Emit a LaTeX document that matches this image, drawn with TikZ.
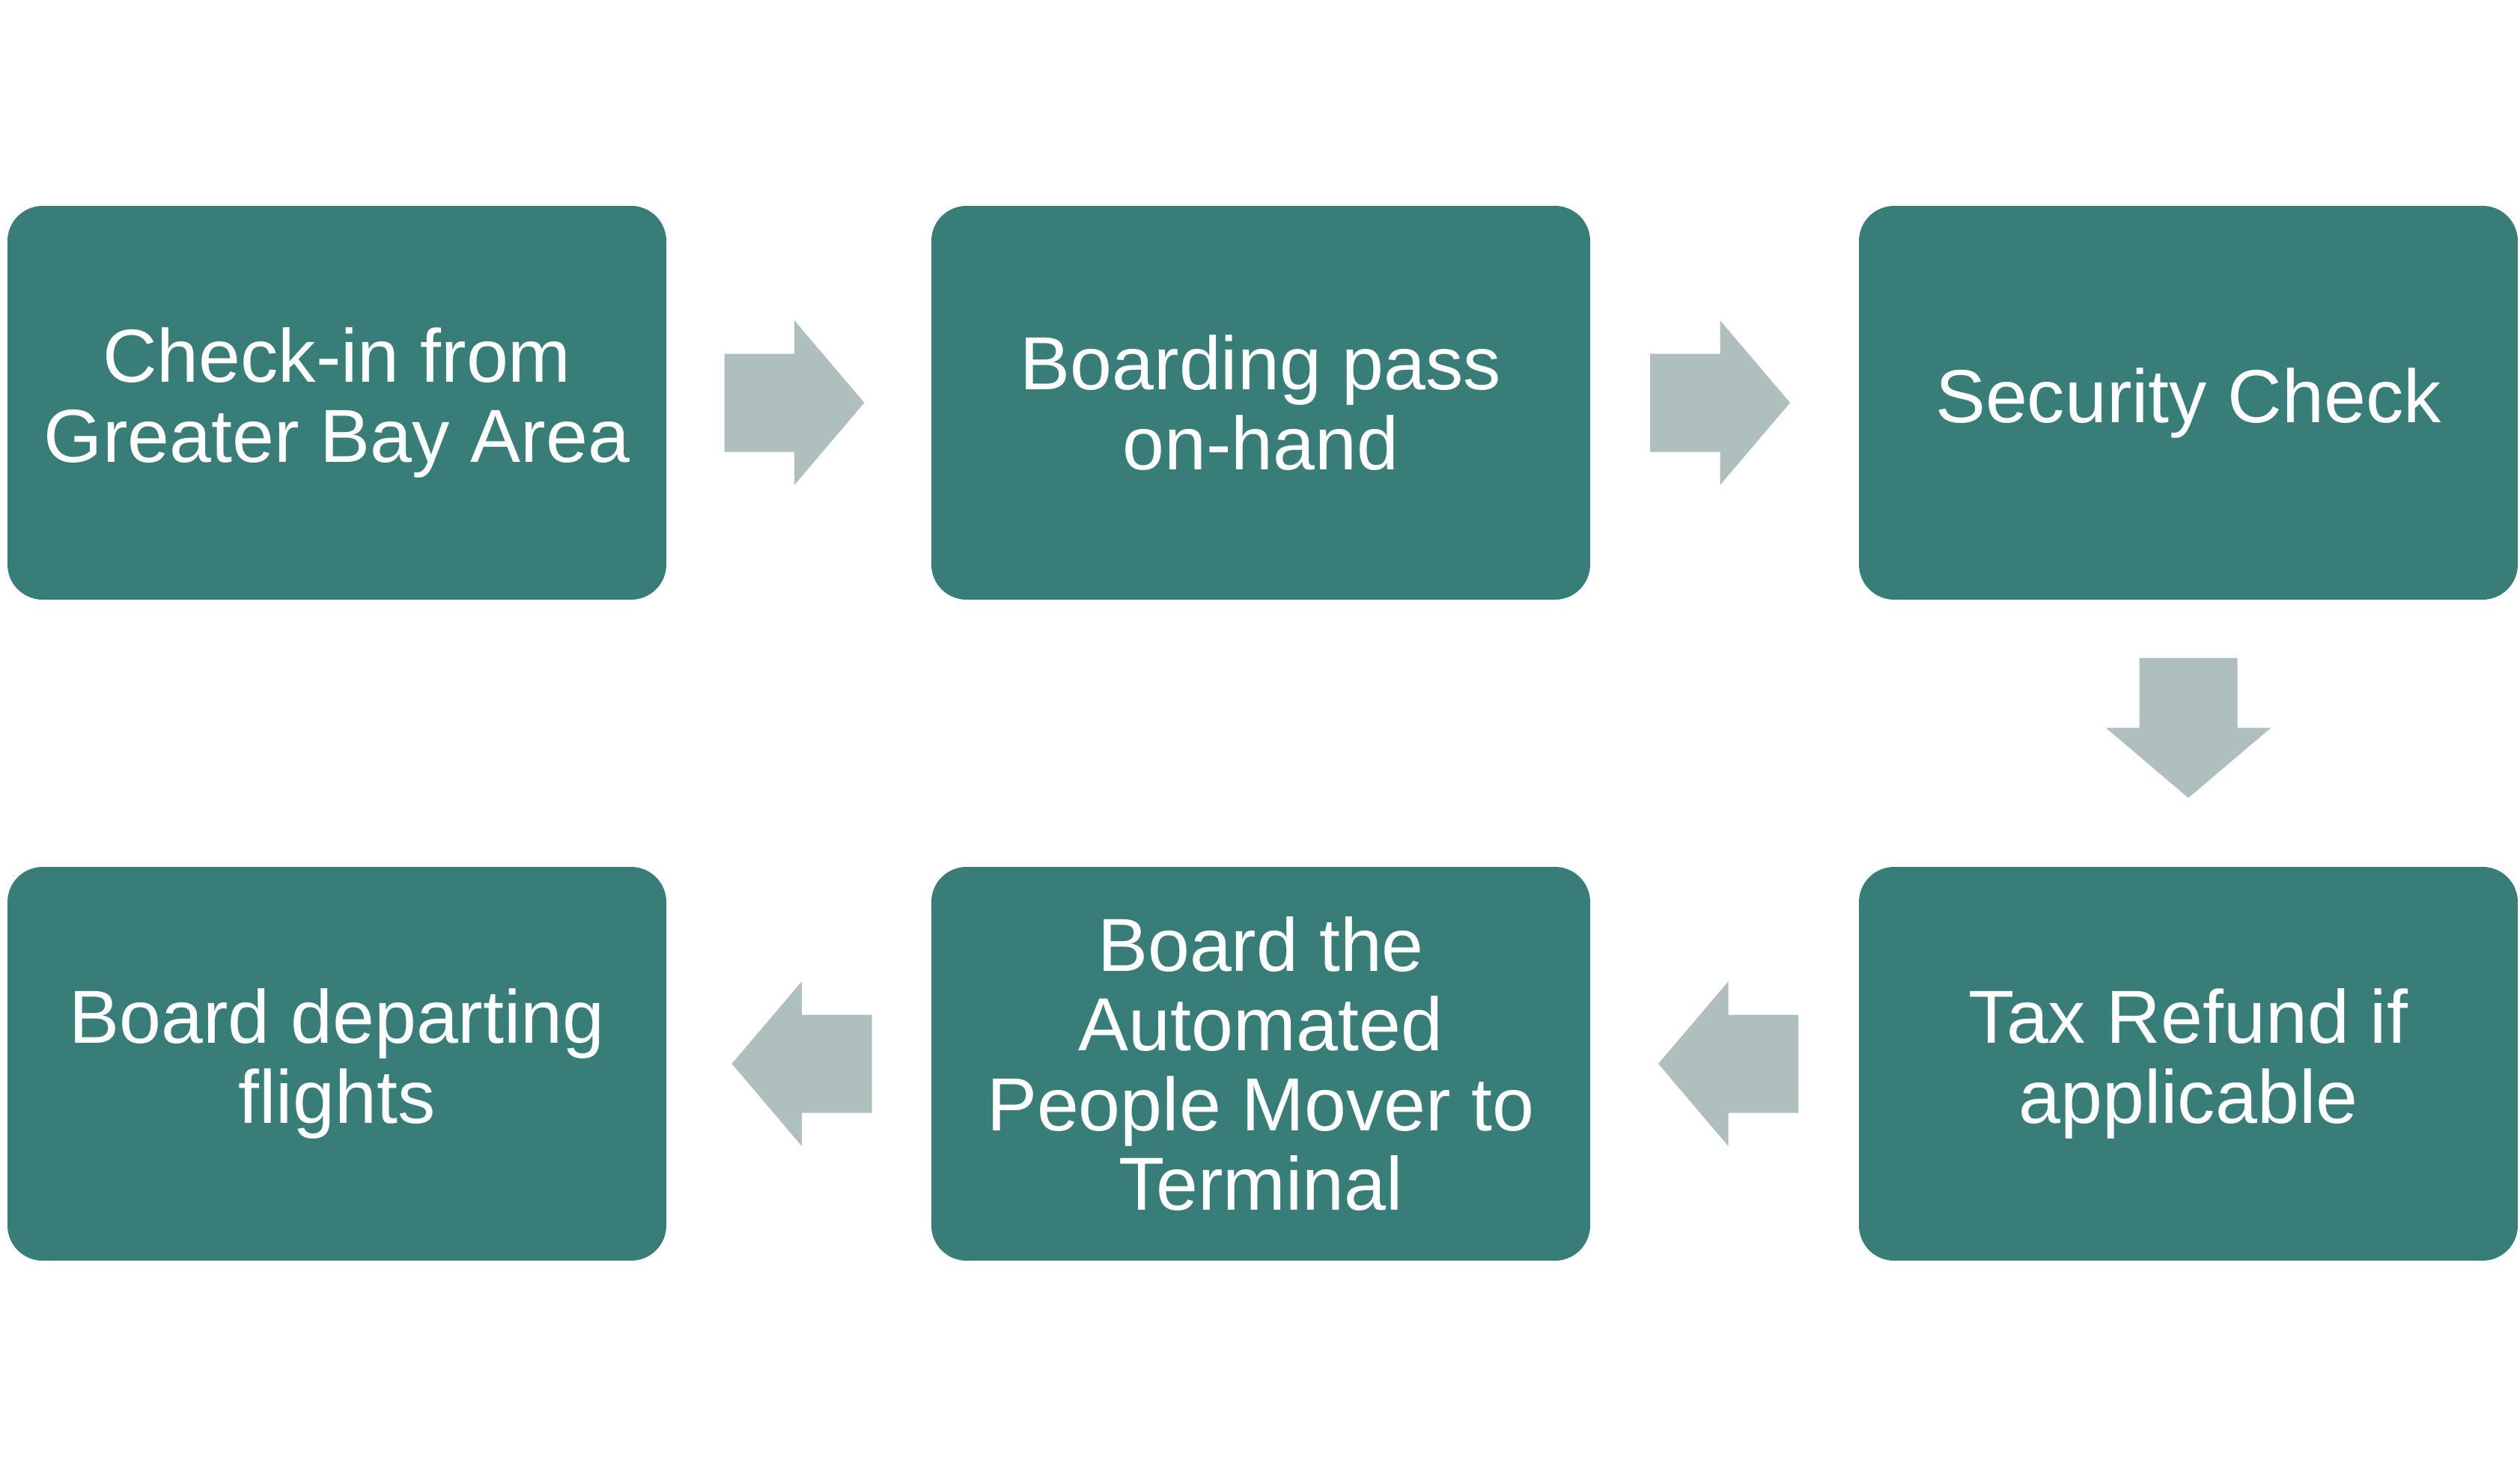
\documentclass[tikz,border=0pt]{standalone}
\usepackage{fontspec}
\setmainfont{Liberation Sans}
\usetikzlibrary{calc}
\definecolor{boxteal}{RGB}{56,125,120}
\definecolor{arrowgray}{RGB}{175,191,189}
\tikzset{
    flowbox/.style={fill=boxteal, rounded corners=0.47cm, minimum width=8.80cm, minimum height=5.26cm,
        text=white, align=center, inner sep=0pt, font=\fontsize{28.6}{30.2}\selectfont},
    flowarrow/.pic={
        \fill[arrowgray] (-0.935, -0.655) -- (0, -0.655) -- (0, -1.1) -- (0.935, 0)
            -- (0, 1.1) -- (0, 0.655) -- (-0.935, 0.655) -- cycle;
    }
}
\begin{document}
\begin{tikzpicture}
            \useasboundingbox (0, 0) rectangle (33.66, -19.56);
            % top row
            \node[flowbox] (checkin) at (4.50, -5.38) {Check-in from\\Greater Bay Area};
            \node[flowbox] (pass) at (16.84, -5.38) {Boarding pass\\on-hand};
            \node[flowbox] (security) at (29.23, -5.38) {Security Check};
            % bottom row
            \node[flowbox] (refund) at (29.23, -14.21) {Tax Refund if\\applicable};
            \node[flowbox] (mover) at (16.84, -14.21) {Board the\\Automated\\People Mover to\\Terminal};
            \node[flowbox] (depart) at (4.50, -14.21) {Board departing\\flights};
            % arrows between the steps
            \pic at ($(checkin.east)!0.5!(pass.west) + (-0.06, 0)$) {flowarrow};
            \pic at ($(pass.east)!0.5!(security.west) + (-0.06, 0)$) {flowarrow};
            \pic[rotate=-90] at ($(security.south)!0.48!(refund.north)$) {flowarrow};
            \pic[rotate=180] at ($(refund.west)!0.5!(mover.east) + (0.05, 0)$) {flowarrow};
            \pic[rotate=180] at ($(mover.west)!0.5!(depart.east) + (0.04, 0)$) {flowarrow};
        \end{tikzpicture}
\end{document}
